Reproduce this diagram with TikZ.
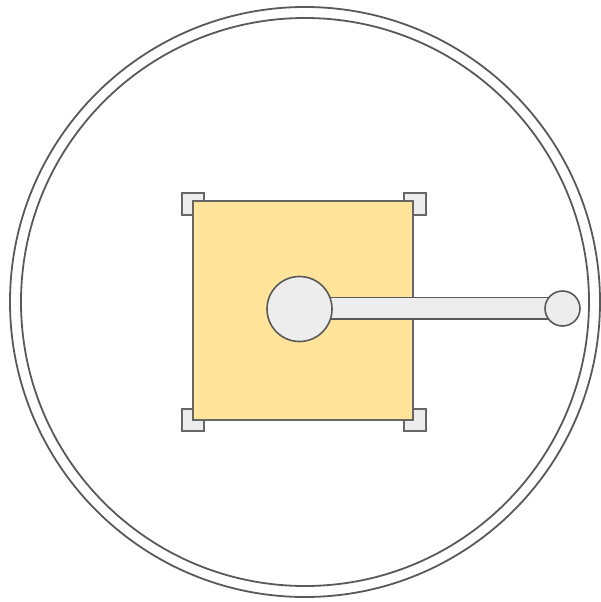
\documentclass[tikz,border=0pt]{standalone}
\begin{document}
\begin{tikzpicture}[x=1pt,y=-1pt,
  ring/.style={draw=black!65,line width=1.8pt,fill=none},
  handle/.style={draw=black!60,fill=black!7,line width=1.5pt,minimum size=22pt,inner sep=0pt,outer sep=0pt},
  plate/.style={draw=black!60,fill=yellowplate,line width=1.5pt,minimum width=220pt,minimum height=219pt,inner sep=0pt,outer sep=0pt},
  knob/.style={circle,draw=black!65,fill=black!7,line width=1.6pt,inner sep=0pt,outer sep=0pt},
  arm/.style={draw=black!65,fill=black!7,line width=1.5pt}]
\definecolor{yellowplate}{HTML}{FFE499}
\useasboundingbox (0,0) rectangle (600,602);
% rings
\node[ring,circle,minimum size=590pt,inner sep=0pt] (outer) at (305,302) {};
\node[ring,circle,minimum size=568pt,inner sep=0pt] (inner) at (305,302) {};
% handles
\node[handle] (h1) at (193,204) {};
\node[handle] (h2) at (415,204) {};
\node[handle] (h3) at (193,420) {};
\node[handle] (h4) at (415,420) {};
% plate
\node[plate] (plate) at (303,310.5) {};
% arm
\coordinate (armA) at (300,297.5);
\coordinate (armB) at (562,319);
\draw[arm] (armA) rectangle (armB);
% knobs
\node[knob,minimum size=65pt] (hub) at (299.5,309) {};
\node[knob,minimum size=35pt] (tip) at (562.5,308.5) {};
\end{tikzpicture}
\end{document}
